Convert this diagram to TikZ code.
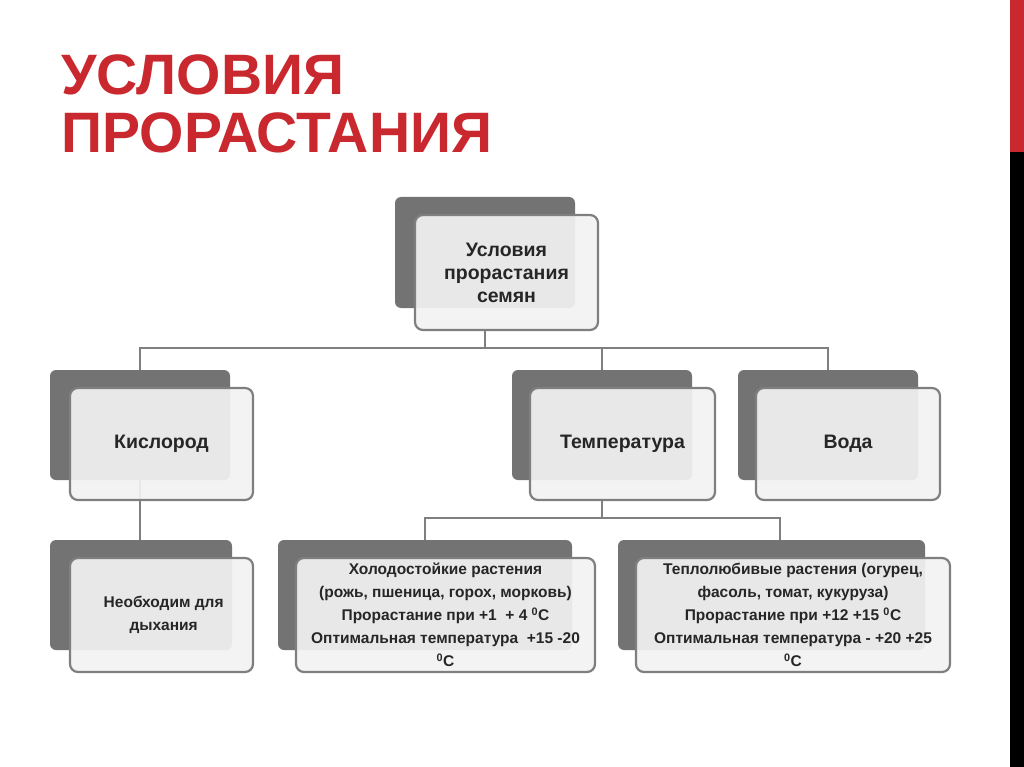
\documentclass[tikz,border=0pt]{standalone}
\usepackage{fontspec}
\setmainfont{Liberation Sans}
\definecolor{redt}{HTML}{C8282E}
\definecolor{backg}{HTML}{737373}
\definecolor{lineg}{HTML}{7F7F7F}
\definecolor{frontf}{HTML}{F2F2F2}
\begin{document}
\begin{tikzpicture}[x=1pt,y=-1pt,
  backbox/.style={fill=backg,rounded corners=6pt},
  frontbox/.style={fill=frontf,fill opacity=0.92,draw=lineg,line width=2.2pt,rounded corners=8pt},
  lbl/.style={align=center,font=\bfseries\fontsize{19.5}{23}\selectfont,text=black!85},
  conn/.style={draw=lineg,line width=1.8pt}]
\useasboundingbox (0,0) rectangle (1024,767);
\fill[redt] (1010,0) rectangle (1024,152);
\fill[black] (1010,152) rectangle (1024,767);
\node[anchor=west,text=redt,font=\bfseries\fontsize{57}{58}\selectfont,align=left] (title) at (58,104) {УСЛОВИЯ\\ПРОРАСТАНИЯ};
% connectors
\coordinate (h1) at (485,348);
\draw[conn] (485,330) -- (h1);
\draw[conn] (140,370) -- (140,348) -- (828,348) -- (828,370);
\draw[conn] (602,348) -- (602,370);
\draw[conn] (602,500) -- (602,518);
\draw[conn] (425,540) -- (425,518) -- (780,518) -- (780,540);
\draw[conn] (140,480) -- (140,540);
% boxes
\newcommand{\bx}[9]{%
  \fill[backbox] (#1,#2) rectangle (#3,#4);
  \path[frontbox] (#5,#6) rectangle (#7,#8);
  \node[lbl] (#9) at ({(#5+#7)/2},{(#6+#8)/2})}
\newcommand{\fs}[1]{\fontsize{15.5}{#1}\selectfont}
\bx{395}{197}{575}{308}{415}{215}{598}{330}{root} {Условия\\прорастания\\семян};
\bx{50}{370}{230}{480}{70}{388}{253}{500}{kis} {Кислород};
\bx{512}{370}{692}{480}{530}{388}{715}{500}{tem} {Температура};
\bx{738}{370}{918}{480}{756}{388}{940}{500}{vod} {Вода};
\bx{50}{540}{232}{650}{70}{558}{253}{672}{neo} {\fs{18} Необходим для\\\fs{18} дыхания};
\bx{278}{540}{572}{650}{296}{558}{595}{672}{hol} {\fs{22}Холодостойкие растения\\\fs{22}(рожь, пшеница, горох, морковь)\\\fs{22}Прорастание при +1\ \ + 4 \textsuperscript{0}С\\\fs{20}Оптимальная температура\ \ +15 -20\\\fs{16}\textsuperscript{0}С};
\bx{618}{540}{925}{650}{636}{558}{950}{672}{tep} {\fs{19}Теплолюбивые растения (огурец,\\\fs{20}фасоль, томат, кукуруза)\\\fs{22}Прорастание при +12 +15 \textsuperscript{0}С\\\fs{20}Оптимальная температура - +20 +25\\\fs{16}\textsuperscript{0}С};
\end{tikzpicture}
\end{document}
